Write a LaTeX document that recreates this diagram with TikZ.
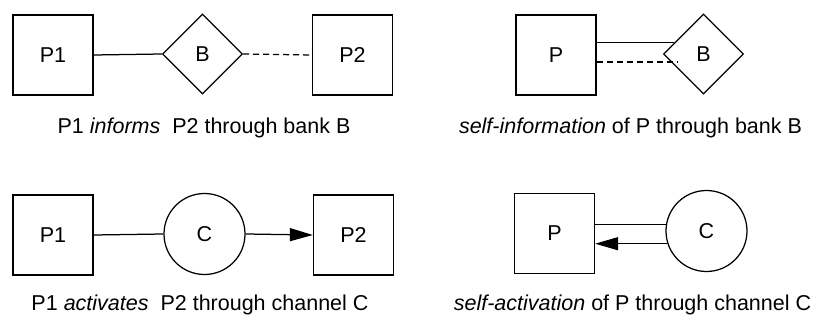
\documentclass[tikz,border=0pt]{standalone}
\usepackage{fontspec}
\setmainfont{Liberation Sans}
\usetikzlibrary{shapes.geometric,arrows.meta,calc}
\tikzset{
  lbl/.style={font=\fontsize{21.5pt}{25pt}\selectfont, inner sep=0pt},
  procbox/.style={draw, line width=1.25pt, minimum width=80pt, minimum height=80pt, inner sep=0pt, font=\fontsize{21.5pt}{25pt}\selectfont},
  bankdia/.style={draw, diamond, aspect=1, line width=1.25pt, minimum width=80pt, minimum height=80pt, inner sep=0pt, font=\fontsize{21.5pt}{25pt}\selectfont},
  chancirc/.style={draw, circle, line width=1.25pt, minimum size=81pt, inner sep=0pt, font=\fontsize{21.5pt}{25pt}\selectfont},
  conn/.style={line width=1.25pt},
  dconn/.style={line width=1.25pt, dash pattern=on 6pt off 4pt},
  aconn/.style={line width=1.25pt, -{Triangle[length=23pt,width=13pt]}}
}
\begin{document}
\begin{tikzpicture}[x=1pt,y=-1pt]
\useasboundingbox (0,0) rectangle (814,323);
% Panel 1
\node[procbox] (p1a) at (53,55) {P1};
\node[bankdia] (ba) at (202.5,54) {B};
\node[procbox] (p2a) at (352.5,55) {P2};
\draw[conn] (p1a.east) -- (ba.west);
\draw[dconn] (ba.east) -- (p2a.west);
\node[lbl] (capa) at (204,128) {P1 \textit{informs}\ \ P2 through bank B};
% Panel 2
\node[procbox] (pb) at (556,55) {P};
\node[bankdia] (bb) at (703.5,54) {B};
\coordinate (bbup) at ($(bb.west)!0.275!(bb.north)$);
\coordinate (bbdn) at ($(bb.west)+(15,8)$);
\draw[conn] (pb.east |- bbup) -- (bbup);
\draw[dconn] (pb.east |- bbdn) -- (bbdn);
\node[lbl] (capb) at (630.5,128) {\textit{self-information} of P through bank B};
% Panel 3
\node[procbox] (p1c) at (53,235) {P1};
\node[chancirc] (cc) at (204.5,234) {C};
\node[procbox] (p2c) at (353.5,235) {P2};
\draw[conn] (p1c.east) -- (cc.west);
\draw[aconn] (cc.east) -- (p2c.west);
\node[lbl] (capc) at (200,305) {P1 \textit{activates}\ \ P2 through channel C};
% Panel 4
\node[procbox] (pd) at (554.5,233.5) {P};
\node[chancirc] (cd) at (706.5,231) {C};
\draw[conn] (pd.east |- cd.171) -- (cd.171);
\draw[aconn] (cd.198) -- (cd.198 -| pd.east);
\node[lbl] (capd) at (632.5,305) {\textit{self-activation} of P through channel C};
\end{tikzpicture}
\end{document}
